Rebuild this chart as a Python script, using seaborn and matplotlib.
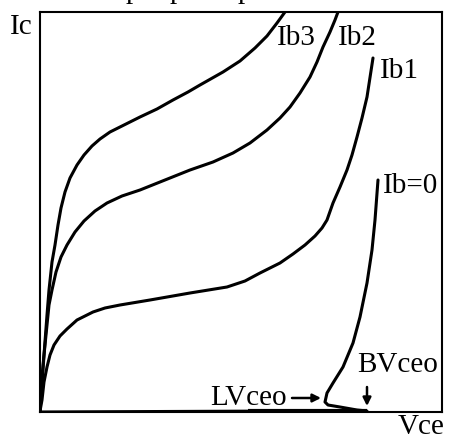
import matplotlib
matplotlib.use("Agg")
import matplotlib.pyplot as plt
import seaborn as sns

# ---------------------------------------
# Curve data (Vce, Ic), arbitrary units
# ---------------------------------------
ib3_vce = [0, 2, 4, 7, 9, 12, 15, 18, 21, 25, 30, 37, 44, 52, 60, 70, 82, 100,
           117, 133, 148, 160, 183, 200, 215, 227, 237, 245]
ib3_ic = [1, 27, 57, 97, 122, 150, 167, 187, 204, 220, 234, 247, 257, 266, 273, 280, 286, 295,
          303, 312, 320, 327, 340, 351, 364, 376, 389, 400]

ib2_vce = [0, 1, 3, 6, 9, 12, 16, 21, 27, 35, 44, 55, 67, 82, 100, 125, 150, 173,
           193, 210, 227, 240, 250, 260, 270, 277, 283, 290, 295, 298]
ib2_ic = [1, 22, 47, 77, 107, 122, 140, 155, 167, 180, 191, 201, 209, 216, 222, 232, 242, 250,
          259, 269, 282, 294, 305, 319, 335, 350, 365, 380, 392, 400]

ib1_vce = [0, 2, 4, 7, 10, 14, 20, 27, 37, 53, 65, 80, 110, 150, 187, 205, 220, 240,
           253, 265, 275, 282, 287, 293, 300, 307, 312, 317, 322, 327, 333]
ib1_ic = [1, 12, 30, 45, 57, 67, 76, 83, 92, 100, 104, 107, 112, 119, 125, 131, 139, 149,
          158, 167, 176, 184, 192, 209, 225, 242, 257, 275, 294, 315, 354]

ib0_vce = [0, 248, 327, 317, 300, 288, 285, 287, 293, 303, 313, 320, 327, 332, 335, 338]
ib0_ic = [0, 1, 1, 2, 5, 7, 10, 19, 29, 45, 69, 95, 129, 162, 192, 232]

leak_vce = [208, 327]
leak_ic = [1.5, 1.5]

curve_labels = ["Ib3", "Ib2", "Ib1", "Ib=0"]

# ---------------------------------------
# Style
# ---------------------------------------
sns.set_theme(style="white")
plt.rcParams["font.family"] = ["Liberation Serif", "DejaVu Serif"]
plt.rcParams["lines.solid_joinstyle"] = "round"

fig = plt.figure(figsize=(4.51, 4.41), dpi=100)
ax = fig.add_axes([40 / 451, 29 / 441, 402 / 451, 400 / 441])

line_kw = dict(color="black", linewidth=2.2, sort=False, estimator=None, ax=ax)
sns.lineplot(x=ib3_vce, y=ib3_ic, **line_kw)
sns.lineplot(x=ib2_vce, y=ib2_ic, **line_kw)
sns.lineplot(x=ib1_vce, y=ib1_ic, **line_kw)
sns.lineplot(x=ib0_vce, y=ib0_ic, **line_kw)
ax.plot(leak_vce, leak_ic, color="black", linewidth=3.0, solid_capstyle="butt")

ax.set_xlim(0, 402)
ax.set_ylim(0, 400)
ax.set_xticks([])
ax.set_yticks([])
ax.set_xlabel("")
ax.set_ylabel("")
for sp in ax.spines.values():
    sp.set_color("black")
    sp.set_linewidth(1.5)

fs = 21
txt = dict(fontsize=fs, color="black", va="baseline", clip_on=False)

# curve labels
ax.text(237, 367, curve_labels[0], ha="left", **txt)
ax.text(298, 367, curve_labels[1], ha="left", **txt)
ax.text(340, 334, curve_labels[2], ha="left", **txt)
ax.text(343, 219, curve_labels[3], ha="left", **txt)

# axis names
ax.text(-30, 378, "Ic", ha="left", **txt)
ax.text(358, -22, "Vce", ha="left", **txt)

# breakdown annotations
ax.text(317, 40, "BVceo", ha="left", **txt)
ax.text(247, 7, "LVceo", ha="right", **txt)
ax.annotate("", xy=(281, 14), xytext=(252, 14),
            arrowprops=dict(arrowstyle="-|>", color="black", lw=1.8,
                            mutation_scale=12, shrinkA=0, shrinkB=0))
ax.annotate("", xy=(327, 6), xytext=(327, 25),
            arrowprops=dict(arrowstyle="-|>", color="black", lw=1.8,
                            mutation_scale=12, shrinkA=0, shrinkB=0))

# remnants of the cut-off heading at the very top
for x0 in [86, 130, 198]:
    ax.text(x0, 414, "p", ha="left", **txt)

fig.savefig("out.png", dpi=100)
